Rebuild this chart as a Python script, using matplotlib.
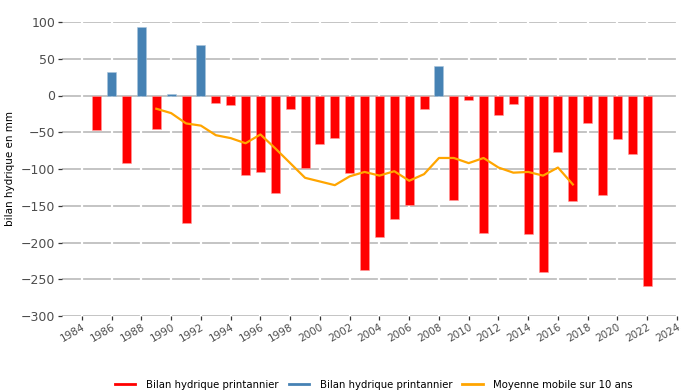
import matplotlib
matplotlib.use("Agg")
import matplotlib.pyplot as plt
from matplotlib.lines import Line2D
import numpy as np

years = list(range(1985, 2023))
bilan = [-47, 32, -92, 93, -45, 2, -174, 69, -10, -13,
         -108, -104, -133, -19, -98, -66, -58, -106, -238, -192,
         -168, -149, -18, 40, -142, -6, -187, -27, -11, -188,
         -240, -77, -143, -37, -135, -59, -79, -259]

ma_years = list(range(1989, 2018))
ma_values = [-18, -24, -38, -41, -54, -58, -65, -53, -72, -92,
             -112, -117, -122, -110, -104, -109, -103, -116, -107, -85,
             -85, -92, -85, -98, -105, -104, -109, -98, -121]

yticks = [-300, -250, -200, -150, -100, -50, 0, 50, 100]
xticks = list(range(1984, 2025, 2))

legend_labels = ["Bilan hydrique printannier", "Bilan hydrique printannier",
                 "Moyenne mobile sur 10 ans"]

RED = "#FF0000"
BLUE = "#4682B4"
ORANGE = "#FFA500"

fig = plt.figure(figsize=(6.87, 3.9), dpi=100)
ax = fig.add_axes([62/687, 1-316/390, (678-62)/687, (316-22)/390])

ax.set_xlim(1982.66, 2024.07)
ax.set_ylim(-300, 100)

for yv in yticks:
    ax.axhline(yv, color="#c4c4c4", lw=1.4, zorder=0.5)
for xv in xticks:
    ax.axvline(xv, color="white", lw=1.6, zorder=0.6)

yrs = np.array(years)
vals = np.array(bilan)
neg = vals < 0
ax.bar(yrs[neg], vals[neg], width=0.6, color=RED, edgecolor="#ff9a9a",
       linewidth=0.4, zorder=2)
ax.bar(yrs[~neg], vals[~neg], width=0.6, color=BLUE, edgecolor="#a9c4dc",
       linewidth=0.4, zorder=2)
ax.plot(ma_years, ma_values, color=ORANGE, lw=1.6, zorder=3)

for s in ax.spines.values():
    s.set_visible(False)

ax.set_yticks(yticks)
ax.set_xticks(xticks)
ax.set_xticklabels([str(x) for x in xticks], rotation=30, ha="right",
                   rotation_mode="anchor")
ax.tick_params(axis="y", length=3, width=0.9, color="#333333",
               labelcolor="#4d4d4d", labelsize=9, pad=2)
ax.tick_params(axis="x", length=3, width=0.9, color="#333333",
               labelcolor="#4d4d4d", labelsize=7.5, pad=1)
ax.set_ylabel("bilan hydrique en mm", fontsize=7.5, color="black", labelpad=4)

handles = [Line2D([], [], color=RED, lw=2),
           Line2D([], [], color=BLUE, lw=2),
           Line2D([], [], color=ORANGE, lw=2)]
fig.legend(handles, legend_labels, loc="center", ncol=3,
           bbox_to_anchor=(374/687, 5/390), frameon=False, fontsize=7.3,
           handlelength=2.0, columnspacing=1.0, handletextpad=1.05,
           borderpad=0, borderaxespad=0)

fig.savefig("out.png", dpi=100)
